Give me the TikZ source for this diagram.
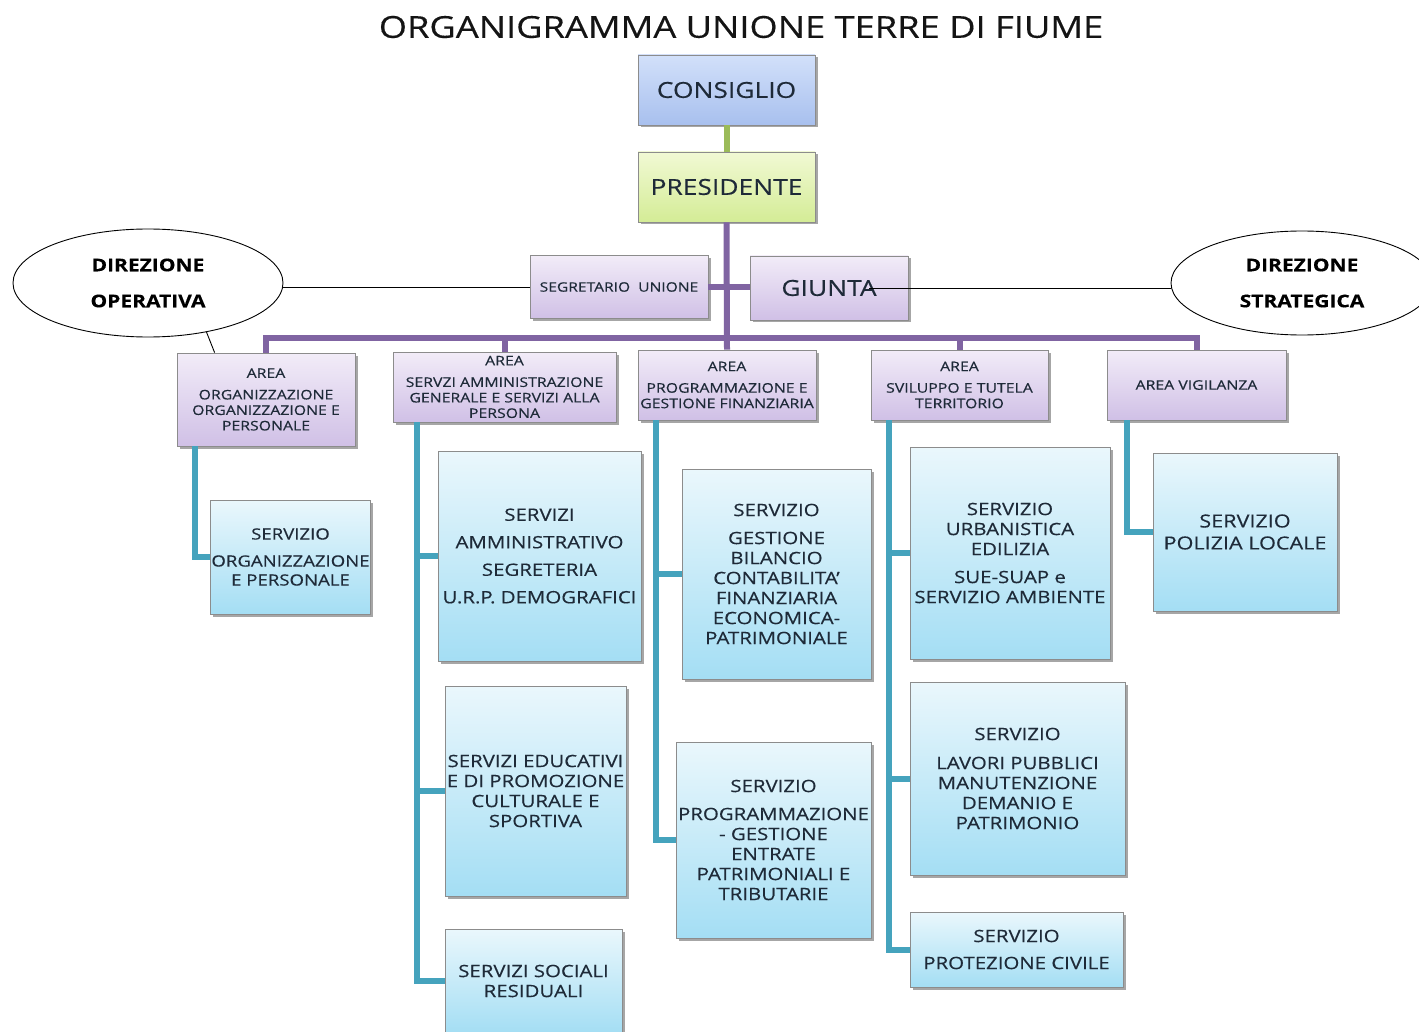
\documentclass[tikz,border=0pt]{standalone}
\usepackage{fontspec}
\setmainfont{Open Sans}[FakeStretch=1.2, FakeBold=0.35]
\newfontfamily\titlefont{Open Sans}[FakeStretch=1.2, FakeBold=0.3]
\usetikzlibrary{shapes.geometric,shadows,calc}
\definecolor{txt}{HTML}{1E2A38}
\definecolor{bord}{HTML}{8C8C8C}
\definecolor{plc}{HTML}{8064A2}
\definecolor{tlc}{HTML}{45A3BD}
\definecolor{olc}{HTML}{9BBB59}
\definecolor{cotop}{HTML}{D2E0FA}
\definecolor{cobot}{HTML}{A8C0EE}
\definecolor{prtop}{HTML}{F1F9D4}
\definecolor{prbot}{HTML}{D4EC96}
\definecolor{artop}{HTML}{F2ECF8}
\definecolor{arbot}{HTML}{D0C0E6}
\definecolor{svtop}{HTML}{EAF7FC}
\definecolor{svbot}{HTML}{A4DEF4}
\begin{document}
\begin{tikzpicture}[x=1pt,y=-1pt,
  box/.style={draw=bord, line width=0.8pt, inner sep=1pt, text=txt, align=center,
    drop shadow={shadow xshift=2.5pt, shadow yshift=-2.5pt, opacity=0.35, fill=black}},
  svc/.style={box, top color=svtop, bottom color=svbot, font=\fontsize{17}{20}\selectfont},
  area/.style={box, top color=artop, bottom color=arbot, font=\fontsize{13.2}{15.5}\selectfont},
  topbox/.style={box, font=\fontsize{22}{26}\selectfont},
  ell/.style={ellipse, draw=black, line width=0.9pt, fill=white, align=center, text=black,
    font=\bfseries\fontsize{17.5}{36}\selectfont},
  pline/.style={draw=plc, line width=6pt},
  tline/.style={draw=tlc, line width=6pt},
  oline/.style={draw=olc, line width=6pt},
  thinline/.style={draw=black, line width=0.9pt}
]
\useasboundingbox[fill=white] (0,0) rectangle (1419,1032);

\node[font=\titlefont\fontsize{30.2}{31}\selectfont, text=black!92] (title) at (741,27) {ORGANIGRAMMA UNIONE TERRE DI FIUME};

% top boxes
\node[topbox, top color=cotop, bottom color=cobot, minimum width=177pt, minimum height=70pt] (cons) at (726.5,90) {CONSIGLIO};
\node[topbox, top color=prtop, bottom color=prbot, minimum width=177pt, minimum height=70pt] (pres) at (726.5,187) {PRESIDENTE};
\node[area, font=\fontsize{13}{14}\selectfont, minimum width=178pt, minimum height=63pt] (segr) at (619,287) {SEGRETARIO\ \ UNIONE};
\node[topbox, top color=artop, bottom color=arbot, minimum width=158pt, minimum height=64pt] (giunta) at (829,288) {GIUNTA};

% ellipses
\node[ell, minimum width=270pt, minimum height=108pt] (ellOp) at (148,283) {DIREZIONE\\OPERATIVA};
\node[ell, minimum width=262pt, minimum height=104pt] (ellSt) at (1302,283) {DIREZIONE\\STRATEGICA};

% area boxes
\node[area, minimum width=178pt, minimum height=93pt] (a1) at (266,399.5) {AREA\\[6pt]ORGANIZZAZIONE\\ORGANIZZAZIONE E\\PERSONALE};
\node[area, minimum width=223pt, minimum height=70pt] (a2) at (504.5,387) {AREA\\[6pt]SERVZI AMMINISTRAZIONE\\GENERALE E SERVIZI ALLA\\PERSONA};
\node[area, minimum width=178pt, minimum height=70pt] (a3) at (727,385) {AREA\\[6pt]PROGRAMMAZIONE E\\GESTIONE FINANZIARIA};
\node[area, minimum width=177pt, minimum height=70pt] (a4) at (959.5,385) {AREA\\[6pt]SVILUPPO E TUTELA\\TERRITORIO};
\node[area, minimum width=179pt, minimum height=70pt] (a5) at (1196.5,385) {AREA VIGILANZA};

% service boxes
\node[svc, minimum width=159pt, minimum height=114pt, font=\fontsize{15.5}{19}\selectfont] (s1) at (290.5,557) {SERVIZIO\\[8pt]ORGANIZZAZIONE\\E PERSONALE};
\node[svc, minimum width=203pt, minimum height=210pt, font=\fontsize{17}{27.5}\selectfont] (s2a) at (539.5,556) {SERVIZI\\AMMINISTRATIVO\\SEGRETERIA\\U.R.P. DEMOGRAFICI};
\node[svc, minimum width=181pt, minimum height=210pt] (s2b) at (535.5,791) {SERVIZI EDUCATIVI\\E DI PROMOZIONE\\CULTURALE E\\SPORTIVA};
\node[svc, minimum width=177pt, minimum height=104pt] (s2c) at (533.5,981) {SERVIZI SOCIALI\\RESIDUALI};
\node[svc, minimum width=189pt, minimum height=210pt] (s3a) at (776.5,574) {SERVIZIO\\[8pt]GESTIONE\\BILANCIO\\CONTABILITA'\\FINANZIARIA\\ECONOMICA-\\PATRIMONIALE};
\node[svc, minimum width=195pt, minimum height=196pt] (s3b) at (773.5,840) {SERVIZIO\\[8pt]PROGRAMMAZIONE\\- GESTIONE\\ENTRATE\\PATRIMONIALI E\\TRIBUTARIE};
\node[svc, minimum width=200pt, minimum height=212pt] (s4a) at (1010,553) {SERVIZIO\\URBANISTICA\\EDILIZIA\\[8pt]SUE-SUAP e\\SERVIZIO AMBIENTE};
\node[svc, minimum width=215pt, minimum height=193pt] (s4b) at (1017.5,778.5) {SERVIZIO\\[9pt]LAVORI PUBBLICI\\MANUTENZIONE\\DEMANIO E\\PATRIMONIO};
\node[svc, minimum width=213pt, minimum height=75pt] (s4c) at (1016.5,949.5) {SERVIZIO\\[7pt]PROTEZIONE CIVILE};
\node[svc, minimum width=184pt, minimum height=158pt, font=\fontsize{18}{22}\selectfont] (s5) at (1245,532) {SERVIZIO\\POLIZIA LOCALE};

% connectors: top
\draw[oline] (cons.south) -- (pres.north);
\coordinate (bar) at (0,338);
\draw[pline] (pres.south) -- (a3.north);
\draw[pline] (a1.north) -- (a1.north |- bar) -- (a5.north |- bar) -- (a5.north);
\draw[pline] (a2.north) -- (a2.north |- bar);
\draw[pline] (a4.north) -- (a4.north |- bar);
\draw[pline] (segr.east) -- (segr.east -| giunta.west);

% thin lines
\draw[thinline] (segr.west) -- (segr.west -| ellOp.east);
\draw[thinline] (ellOp.320) -- ([xshift=38pt]a1.north west);
\draw[thinline] ($(giunta.center)+(40,0)$) -- (ellSt.west |- giunta.center);

% teal trunks
\coordinate (t1) at ([xshift=18pt]a1.south west);
\coordinate (t2) at ([xshift=24pt]a2.south west);
\coordinate (t3) at ([xshift=18pt]a3.south west);
\coordinate (t4) at ([xshift=18pt]a4.south west);
\coordinate (t5) at ([xshift=20pt]a5.south west);
\draw[tline] (t1) |- (s1.west);
\draw[tline] (t2) |- (s2c.west);
\draw[tline] (s2a.west) -- (t2 |- s2a.west);
\draw[tline] (s2b.west) -- (t2 |- s2b.west);
\draw[tline] (t3) |- (s3b.west);
\draw[tline] (s3a.west) -- (t3 |- s3a.west);
\draw[tline] (t4) |- (s4c.west);
\draw[tline] (s4a.west) -- (t4 |- s4a.west);
\draw[tline] (s4b.west) -- (t4 |- s4b.west);
\draw[tline] (t5) |- (s5.west);
\end{tikzpicture}
\end{document}
